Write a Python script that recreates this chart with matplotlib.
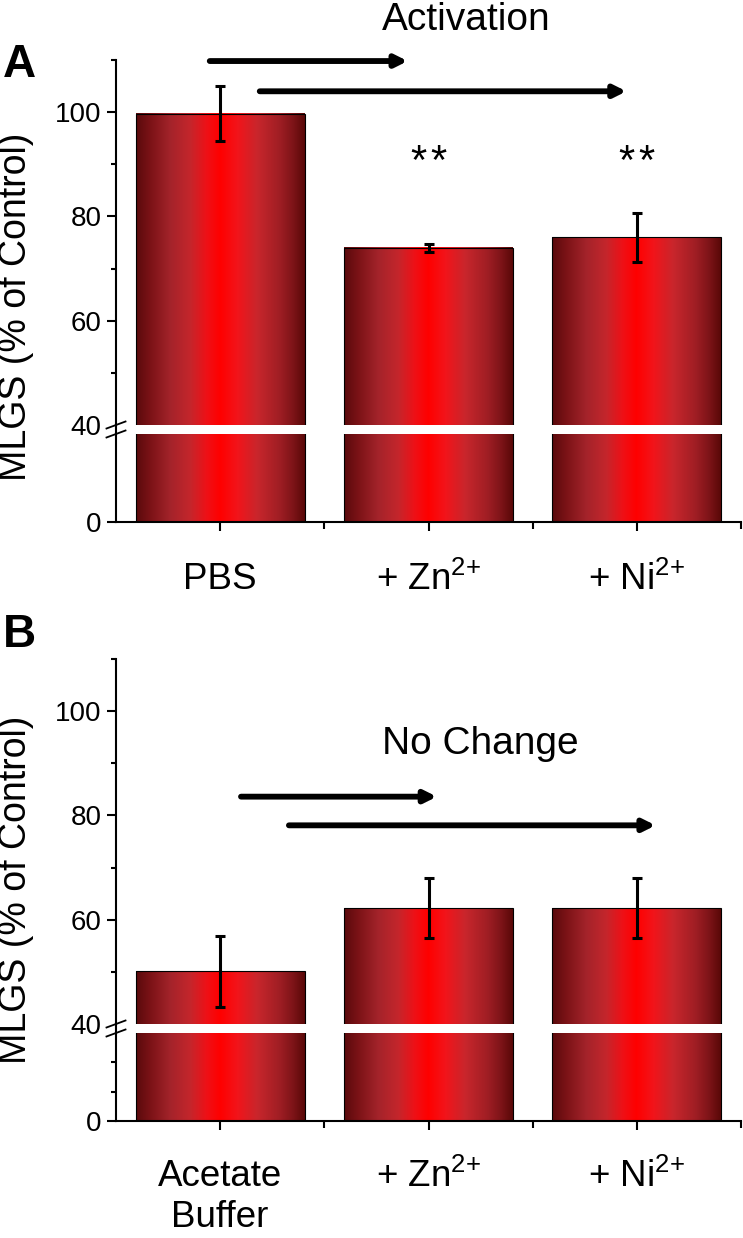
import numpy as np
import matplotlib
matplotlib.use("Agg")
import matplotlib.pyplot as plt
import matplotlib.patheffects as pe
from matplotlib.colors import LinearSegmentedColormap
from matplotlib.lines import Line2D

plt.rcParams["font.family"] = ["Liberation Sans", "DejaVu Sans"]
plt.rcParams["mathtext.fontset"] = "custom"
plt.rcParams["mathtext.rm"] = "Liberation Sans"
plt.rcParams["mathtext.it"] = "Liberation Sans:italic"

# data
labels_a = ["PBS", r"+ Zn$^{2\!+}$", r"+ Ni$^{2\!+}$"]
mlgs_a = [99.7, 74.0, 76.0]
err_a = [5.3, 0.8, 4.7]
stars_a = [0, 2, 2]

labels_b = ["Acetate\nBuffer", r"+ Zn$^{2\!+}$", r"+ Ni$^{2\!+}$"]
mlgs_b = [50.1, 62.2, 62.2]
err_b = [6.8, 5.8, 5.8]

W, H = 743, 1238
fig = plt.figure(figsize=(W / 100, H / 100), dpi=100)

# red bar shading: dark edges, bright centre
bar_cmap = LinearSegmentedColormap.from_list("bar", [
    (0.0, "#5a0a0c"), (0.08, "#7a1216"), (0.2, "#a3232a"), (0.32, "#c4262c"),
    (0.42, "#ef1016"), (0.5, "#ff0000"), (0.6, "#f2141a"), (0.72, "#c8262c"),
    (0.85, "#a01e24"), (0.93, "#7e1418"), (1.0, "#5a0808")])
grad = np.linspace(0, 1, 256).reshape(1, -1)


def px(x, y):
    return x / W, 1 - y / H


def shaded_bars(ax, x, vals, ylo, yhi):
    bars = ax.bar(x, vals, width=0.81, facecolor="none", edgecolor="black",
                  linewidth=0.8, zorder=3)
    for b in bars:
        top = min(b.get_height(), yhi)
        if top <= ylo:
            continue
        ax.imshow(grad, cmap=bar_cmap, aspect="auto", zorder=2,
                  extent=(b.get_x(), b.get_x() + b.get_width(), ylo, top))
    return bars


def arrow(ax, x0, x1, y):
    ax.annotate("", xy=(x1, y), xytext=(x0, y), annotation_clip=False,
                arrowprops=dict(arrowstyle="-|>,head_length=0.7,head_width=0.35",
                                lw=4.2, color="black", shrinkA=0, shrinkB=0,
                                mutation_scale=10,
                                path_effects=[pe.SimplePatchShadow(offset=(1, -2), alpha=0.25),
                                              pe.Normal()]))


def panel(top_px, cut_px, low_top_px, zero_px, labels, vals, errs, lower_minor, label_pad):
    left, right = 116, 741
    l0, b0 = px(left, cut_px)
    _, t0 = px(left, top_px)
    ax_up = fig.add_axes([l0, b0, (right - left) / W, t0 - b0])
    _, b1 = px(left, zero_px)
    _, t1 = px(left, low_top_px)
    ax_lo = fig.add_axes([l0, b1, (right - left) / W, t1 - b1])

    x = np.arange(1, len(vals) + 1)
    shaded_bars(ax_up, x, vals, 40, 110)
    shaded_bars(ax_lo, x, vals, 0, 40)
    for ax in (ax_up, ax_lo):
        ax.set_xlim(0.5, 3.5)
        for s in ("top", "right"):
            ax.spines[s].set_visible(False)
        ax.spines["left"].set_linewidth(1.5)
        ax.spines["bottom"].set_linewidth(1.5)
        ax.tick_params(which="both", direction="out", width=1.5, labelsize=20, pad=4)
        ax.tick_params(which="major", length=6.5)
        ax.tick_params(which="minor", length=3.5)

    ax_up.errorbar(x, vals, yerr=errs, fmt="none", ecolor="black", elinewidth=2.2,
                   capsize=3.5, capthick=2.2, zorder=4)
    ax_up.set_ylim(40, 110)
    ax_up.set_yticks([40, 60, 80, 100])
    ax_up.set_yticks([50, 70, 90, 110], minor=True)
    ax_up.yaxis.get_major_ticks()[0].tick1line.set_visible(False)
    ax_up.spines["bottom"].set_visible(False)
    ax_up.set_xticks([])

    ax_lo.set_ylim(0, 40)
    ax_lo.set_yticks([0])
    ax_lo.set_yticks(lower_minor, minor=True)
    ax_lo.set_xticks(x)
    ax_lo.set_xticks([1.5, 2.5, 3.5], minor=True)
    ax_lo.set_xticklabels(labels, fontsize=26.5, linespacing=1.22)
    ax_lo.tick_params(axis="x", which="major", pad=label_pad)
    ax_lo.tick_params(axis="x", which="minor", length=5)

    # join the y spine over the gap and draw the break marks
    xa, ya = px(left, cut_px)
    _, yb = px(left, low_top_px)
    fig.add_artist(Line2D([xa, xa], [ya, yb], color="black", lw=1.5))
    dx, dy = 9.5 / W, 3.5 / H
    for yy in (ya, yb):
        fig.add_artist(Line2D([xa - dx, xa + dx], [yy - dy, yy + dy], color="black", lw=1.3))
    return ax_up, ax_lo


# panel A
up_a, lo_a = panel(60, 425, 434, 522, labels_a, mlgs_a, err_a, [], 22)
for i, n in enumerate(stars_a):
    for k in range(n):
        off = (k - (n - 1) / 2) * 0.096
        up_a.text(i + 1 + off, 90.3, "*", ha="center", va="center", fontsize=30)
arrow(up_a, 0.95, 1.90, 109.8)
arrow(up_a, 1.19, 2.95, 104.0)
fig.text(*px(466, 20), "Activation", ha="center", va="center", fontsize=28)
fig.text(*px(3, 43), "A", ha="left", va="top", fontsize=33, fontweight="bold")
fig.text(*px(16, 307), "MLGS (% of Control)", rotation=90, ha="center", va="center",
         fontsize=27)

# panel B
up_b, lo_b = panel(659, 1024, 1033, 1121, labels_b, mlgs_b, err_b,
                   [40 / 3, 80 / 3], 21)
arrow(up_b, 1.10, 2.04, 83.6)
arrow(up_b, 1.33, 3.09, 78.1)
up_b.text(2.25, 93.7, "No Change", ha="center", va="center", fontsize=28)
fig.text(*px(3, 613), "B", ha="left", va="top", fontsize=33, fontweight="bold")
fig.text(*px(16, 890), "MLGS (% of Control)", rotation=90, ha="center", va="center",
         fontsize=27)

fig.savefig("out.png", dpi=100)
